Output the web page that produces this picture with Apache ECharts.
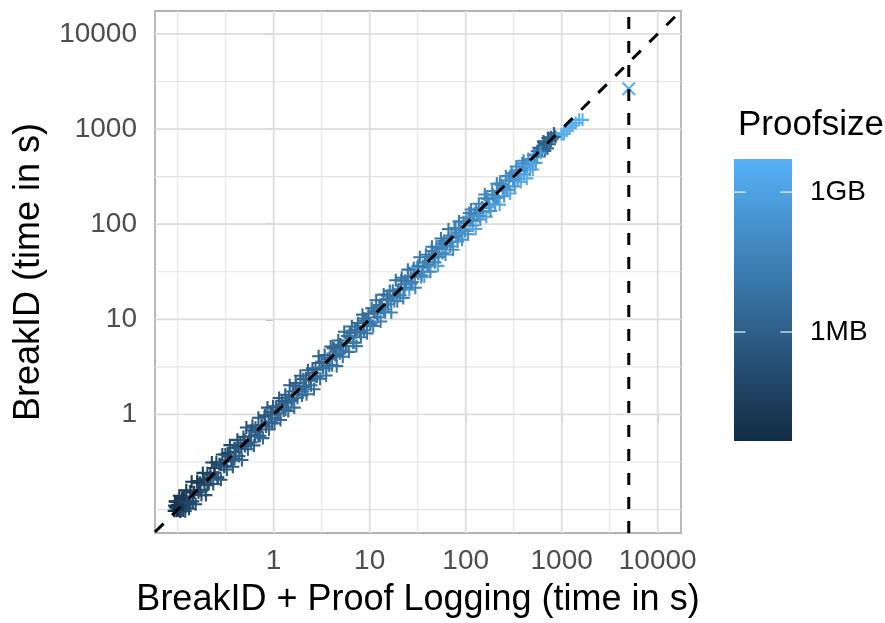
<!DOCTYPE html>
<html><head><meta charset="utf-8">
<script src="https://cdn.jsdelivr.net/npm/echarts@6/dist/echarts.min.js"></script>
<style>html,body{margin:0;padding:0;background:#fff}#c{width:885px;height:623px}</style>
</head><body><div id="c"></div>
<script>
// ---- data: [BreakID + proof logging time (s), BreakID time (s), proof size (MB)] ----
const xTickValues = [1, 10, 100, 1000, 10000];
const yTickValues = [1, 10, 100, 1000, 10000];
const legendLabels = ['1MB', '1GB'];
const legendValuesMB = [1, 1000];
const timeoutSeconds = 5000;

const ptsTenths = [
[0.092,0.097,0.02],[0.094,0.122,0.008],[0.095,0.105,0.015],[0.097,0.097,0.0046],[0.099,0.121,0.01],[0.1,0.112,0.03],[0.102,0.098,0.05],[0.104,0.14,0.012],[0.106,0.11,0.04],[0.108,0.097,0.06],[0.111,0.133,0.02],[0.114,0.098,0.08],[0.117,0.129,0.03],[0.12,0.096,0.1],[0.123,0.16,0.015],[0.127,0.121,0.05],[0.131,0.102,0.12],[0.135,0.155,0.04],[0.14,0.196,0.02],[0.144,0.122,0.1],[0.149,0.152,0.06],[0.154,0.114,0.18],[0.16,0.2,0.04],[0.165,0.152,0.09],[0.171,0.192,0.07],[0.177,0.142,0.2],[0.183,0.243,0.05],[0.19,0.184,0.12],[0.197,0.142,0.3],[0.204,0.241,0.08],[0.211,0.186,0.18],[0.219,0.232,0.1],[0.227,0.313,0.06],[0.235,0.186,0.35],[0.244,0.244,0.15],[0.253,0.314,0.09],[0.262,0.217,0.4],[0.272,0.299,0.2],[0.282,0.206,0.5],[0.292,0.38,0.12],
[0.093,0.11,0.01],[0.096,0.121,0.025],[0.1,0.1,0.007],[0.105,0.121,0.03],[0.11,0.11,0.015],[0.118,0.122,0.04]
];
const ptsSubSecond = [
[0.303,0.288,0.4],[0.314,0.38,0.15],[0.326,0.264,0.7],[0.338,0.362,0.3],[0.35,0.476,0.12],[0.363,0.327,0.5],[0.376,0.282,0.9],[0.39,0.445,0.25],[0.404,0.404,0.6],[0.419,0.541,0.2],[0.434,0.365,1.0],[0.45,0.495,0.45],[0.467,0.332,1.5],[0.484,0.581,0.3],[0.502,0.467,0.8],[0.52,0.728,0.25],[0.539,0.431,1.4],[0.559,0.587,0.6],[0.58,0.51,1.1],[0.601,0.763,0.4],[0.623,0.473,2.0],[0.646,0.724,0.7],[0.67,0.65,1.2],[0.694,0.923,0.5],[0.72,0.598,1.8],[0.746,0.761,0.9],[0.773,0.564,2.5],[0.802,0.954,0.6],[0.831,0.748,1.5],[0.862,1.18,0.5],[0.893,0.697,2.8],[0.926,1.0,1.0],[0.96,0.826,2.0],[0.985,1.22,0.7]
];
const ptsSeconds = [
[1.02,0.806,3.0],[1.06,1.19,1.0],[1.1,1.03,1.8],[1.14,1.49,0.7],[1.18,0.873,3.5],[1.23,1.29,1.4],[1.27,1.1,2.2],[1.32,1.61,0.9],[1.37,1.34,1.6],[1.42,1.09,4.0],[1.47,2.03,0.8],[1.53,1.39,2.5],[1.58,1.74,1.5],[1.64,1.18,5.0],[1.7,2.14,1.2],[1.77,1.5,3.0],[1.83,1.88,2.0],[1.9,2.55,1.0],[1.97,1.58,4.5],[2.04,2.35,1.6],[2.12,1.95,2.8],[2.2,1.63,6.0],[2.28,2.92,1.3],[2.36,2.36,2.4],[2.45,2.03,4.0],[2.54,3.05,1.8],[2.63,1.84,7.0],[2.73,2.95,2.2],[2.83,2.52,3.5],[2.94,4.09,1.4],[3.05,2.38,6.5],[3.16,3.57,2.6],[3.28,3.12,3.8],[3.4,4.22,1.9],[3.52,2.57,8.0],[3.65,3.83,3.0],[3.79,3.26,5.0],[3.93,5.19,2.0],[4.07,3.3,7.5],[4.22,4.94,3.2],[4.38,4.25,4.5],[4.54,3.22,10],[4.71,5.98,2.5],[4.88,4.39,6.0],[5.06,5.36,3.6],[5.25,4.04,9.0],[5.44,7.4,2.8],[5.64,5.25,5.5],[5.85,6.67,4.0],[6.07,4.55,12],[6.29,6.42,5.0],[6.52,8.41,3.2],[6.76,5.68,8.0],[7.01,7.71,4.5],[7.27,5.23,14],[7.54,9.12,4.0],[7.82,7.51,6.5],[8.11,6.49,11],[8.41,11.2,3.8],[8.72,7.67,9.0],[9.04,9.67,6.0],[9.37,7.12,16],[9.72,11.5,5.0]
];
const ptsTens = [
[10.1,9.09,12],[10.5,13.1,5],[10.9,8.5,18],[11.3,11.8,8],[11.7,15.9,4.5],[12.1,10.5,14],[12.6,14.1,7],[13.0,9.49,25],[13.5,13.4,10],[14.0,18.2,6],[14.5,11.9,22],[15.1,16.3,9],[15.6,14.4,15],[16.2,19.8,7],[16.8,11.8,35],[17.4,20.0,10],[18.0,17.1,18],[18.7,25.8,6],[19.4,15.5,30],[20.1,20.7,14],[20.8,17.9,25],[21.6,27.4,9],[22.4,16.8,45],[23.2,25.5,12],[24.1,23.4,20],[25.0,33.3,8],[25.9,20.5,600],[26.8,28.4,15],[27.8,24.7,30],[28.8,34.6,11],[29.9,21.5,60],[31.0,35.0,1200],[32.1,30.2,25],[33.3,45.0,10],[34.5,27.9,50],[35.8,36.2,20],[37.1,28.2,900],[38.5,47.7,14],[39.9,35.9,35],[41.4,45.1,22],[42.9,31.7,80],[44.5,57.9,12],[46.1,44.3,30],[47.8,39.7,55],[49.6,58.0,18],[51.4,36.5,1500],[53.3,55.4,28],[55.3,70.8,15],[57.3,49.9,70],[59.4,66.5,25],[61.6,48.0,110],[63.9,63.9,40],[66.2,88.7,18],[68.7,58.4,90],[71.2,76.2,35],[73.8,53.9,150],[76.5,91.0,28],[79.4,73.8,60],[82.3,65.8,120],[85.3,107,30],[88.5,85.8,75],[91.7,68.8,200],[95.1,105,45]
];
const ptsHundreds = [
[98.6,84.8,150],[102,117,40],[106,78.4,250],[110,108,80],[114,143,30],[118,96.8,180],[123,129,60],[127,88.9,1800],[132,123,100],[137,164,45],[142,112,220],[147,150,90],[152,134,130],[158,205,50],[164,120,2000],[170,184,70],[176,158,140],[182,138,300],[189,223,60],[196,186,120],[203,162,350],[211,266,55],[218,190,180],[226,160,2200],[235,259,80],[243,236,150],[252,197,420],[262,320,70],[271,228,260],[281,289,110],[291,210,2500],[302,344,90],[313,285,200],[325,250,500],[337,404,85],[349,300,300],[362,362,150],[375,278,2600],[389,436,100],[403,334,450],[418,397,220],[433,303,2800],[449,485,120],[466,373,600],[483,435,350],[501,376,3000],[519,540,150],[538,441,800],[558,513,400],[578,636,2.5],[600,630,1.2],[622,603,3.0],[645,742,1.0],[668,588,4.0],[693,707,1.5],[718,804,0.9],[745,693,2.5],[772,818,1.2],[800,792,3.5],[830,896,1.0],[860,826,2.0]
];
const ptsThousands = [
[1000,880,3200],[1060,890,3400],[1130,960,3600],[1210,1030,3800],[1300,1090,4000],[1400,1160,4100],[1520,1250,4300],[1650,1250,4500]
];
const ptsCore = [
[0.098,0.106,0.015],[0.106,0.0954,0.05],[0.115,0.133,0.02],[0.125,0.119,0.06],[0.136,0.117,0.1],[0.147,0.151,0.04],[0.16,0.192,0.03],[0.173,0.161,0.12],[0.188,0.209,0.06],[0.204,0.18,0.2],[0.221,0.217,0.1],[0.24,0.274,0.07],[0.26,0.218,0.35],[0.282,0.296,0.15],[0.306,0.282,0.3],[0.332,0.392,0.12],[0.36,0.36,0.4],[0.391,0.34,0.8],[0.424,0.466,0.3],[0.46,0.442,0.6],[0.5,0.54,0.45],[0.542,0.488,1.0],[0.588,0.682,0.35],[0.638,0.606,0.9],[0.692,0.595,1.6],[0.751,0.774,0.8],[0.815,0.978,0.5],[0.884,0.822,1.5],[0.959,1.06,1.0],[1.04,0.915,2.5],
[1.13,1.11,1.5],[1.22,1.39,1.0],[1.33,1.12,3.5],[1.44,1.51,1.8],[1.56,1.44,2.8],[1.7,2.01,1.3],[1.84,1.84,2.5],[2.0,1.74,5.0],[2.17,2.39,2.0],[2.35,2.26,3.5],[2.55,2.75,2.8],[2.77,2.49,6.0],[3.0,3.48,2.2],[3.26,3.1,4.5],[3.53,3.04,8.0],[3.83,3.94,3.5],[4.16,4.99,2.6],[4.51,4.19,6.5],[4.9,5.44,4.0],[5.31,4.67,10],[5.76,5.64,6.0],[6.25,7.13,4.2],[6.78,5.7,13],[7.36,7.73,6.5],[7.99,7.35,9.0],[8.67,10.2,5.5],[9.4,9.4,10],
[10.2,8.87,20],[11.1,12.2,9],[12.0,11.5,14],[13.0,14.0,11],[14.1,12.7,25],[15.3,17.7,9],[16.6,15.8,20],[18.1,15.6,40],[19.6,20.2,15],[21.3,25.6,10],[23.1,21.5,30],[25.0,27.8,16],[27.1,23.8,50],[29.5,28.9,25],[32.0,36.5,15],[34.7,29.1,70],[37.6,39.5,28],[40.8,37.5,45],[44.3,52.3,20],[48.1,48.1,40],[52.1,45.3,90],[56.6,62.3,30],[61.4,58.9,60],[66.6,71.9,45],[72.3,65.1,130],[78.4,90.9,35],[85.1,80.8,80],[92.3,79.4,250],
[100,103,70],[109,131,40],[118,110,120],[128,142,60],[139,122,300],[151,148,110],[164,187,55],[178,150,700],[193,203,100],[209,192,200],[227,268,60],[246,246,150],[267,232,400],[290,319,90],[314,301,250],[341,368,120],[370,333,1000],[401,465,80],[436,414,300],[473,407,1500],[513,528,200],[556,584,3.0],[604,562,800],[655,727,1.5],[711,626,2.0],[771,756,1.8],[837,870,2.2]
];
const timedOut = [
[5000,2650,5130]
];

// ---- axis limits (log10 seconds) ----
const xLim = [-1.236, 4.243];
const yLim = [-1.246, 4.241];

const L = Math.log10;
const FONT = "'Liberation Sans', Arial, sans-serif";
const toPlot = p => [L(p[0]), L(p[1]), L(p[2] * 1e6)];
const solved = [].concat(ptsTenths, ptsSubSecond, ptsSeconds, ptsTens, ptsHundreds, ptsCore, ptsThousands).map(toPlot);
const timeouts = timedOut.map(toPlot);
const allP = solved.concat(timeouts).map(d => d[2]);
const pMin = Math.min.apply(null, allP), pMax = Math.max.apply(null, allP);

// gridlines: majors at ticks, minors halfway (log space), extended one step
const majorLog = xTickValues.map(L);
const minorLog = [];
const ext = [majorLog[0] - 1].concat(majorLog);
for (let i = 0; i < ext.length - 1; i++) { minorLog.push(ext[i]); minorLog.push((ext[i] + ext[i + 1]) / 2); }
const inX = v => v >= xLim[0] && v <= xLim[1];
const inY = v => v >= yLim[0] && v <= yLim[1];
const gridData = [];
minorLog.filter(inX).forEach(v => gridData.push([v, 'vx', 0]));
minorLog.filter(inY).forEach(v => gridData.push([v, 'hy', 0]));
majorLog.filter(inX).forEach(v => gridData.push([v, 'vx', 1]));
yTickValues.map(L).filter(inY).forEach(v => gridData.push([v, 'hy', 1]));

const plusPath = 'path://M42,0L58,0L58,42L100,42L100,58L58,58L58,100L42,100L42,58L0,58L0,42L42,42Z';
const crossPath = 'path://M11,0L50,39L89,0L100,11L61,50L100,89L89,100L50,61L11,100L0,89L39,50L0,11Z';

const legendLog = legendValuesMB.map(mb => L(mb * 1e6));

const chart = echarts.init(document.getElementById('c'), null, {renderer: 'canvas'});
chart.setOption({
  animation: false,
  backgroundColor: '#fff',
  textStyle: {fontFamily: FONT},
  title: {text: 'Proofsize', left: 733, top: 103, textStyle: {fontSize: 35, fontWeight: 'normal', color: '#000', fontFamily: FONT}},
  grid: [
    {left: 155, top: 11, width: 526, height: 526, show: true, borderColor: '#B3B3B3', borderWidth: 1.8, backgroundColor: '#fff'},
    {left: 734, top: 159, width: 58, height: 282}
  ],
  xAxis: [
    {type: 'value', gridIndex: 0, min: xLim[0], max: xLim[1],
     axisLine: {show: false}, splitLine: {show: false},
     axisTick: {show: true, customValues: xTickValues.map(L), length: 8, lineStyle: {color: '#B3B3B3', width: 1.8}},
     axisLabel: {customValues: xTickValues.map(L), formatter: v => String(Math.round(Math.pow(10, v))), fontSize: 28, color: '#4D4D4D', margin: 14, fontFamily: FONT},
     name: 'BreakID + Proof Logging (time in s)', nameLocation: 'middle', nameGap: 49,
     nameTextStyle: {fontSize: 36, color: '#000', fontFamily: FONT}},
    {type: 'value', gridIndex: 1, min: 0, max: 1, show: false}
  ],
  yAxis: [
    {type: 'value', gridIndex: 0, min: yLim[0], max: yLim[1],
     axisLine: {show: false}, splitLine: {show: false},
     axisTick: {show: true, customValues: yTickValues.map(L), length: 8, lineStyle: {color: '#B3B3B3', width: 1.8}},
     axisLabel: {customValues: yTickValues.map(L), formatter: v => String(Math.round(Math.pow(10, v))), fontSize: 28, color: '#4D4D4D', margin: 18, fontFamily: FONT},
     name: 'BreakID (time in s)', nameLocation: 'middle', nameGap: 108,
     nameTextStyle: {fontSize: 36, color: '#000', fontFamily: FONT}},
    {type: 'value', gridIndex: 1, min: pMin, max: pMax, position: 'right',
     axisLine: {show: false}, axisTick: {show: false}, splitLine: {show: false},
     axisLabel: {customValues: legendLog, fontSize: 28, color: '#000', margin: 18, fontFamily: FONT,
       formatter: v => { let b = 0; legendLog.forEach((lv, i) => { if (Math.abs(lv - v) < Math.abs(legendLog[b] - v)) b = i; }); return legendLabels[b]; }}}
  ],
  visualMap: [{type: 'continuous', show: false, seriesIndex: [1, 2], dimension: 2, min: pMin, max: pMax,
    inRange: {color: ['#132B43', '#56B1F7']}}],
  series: [
    {type: 'custom', xAxisIndex: 0, yAxisIndex: 0, z: 1, silent: true, data: gridData,
     encode: {x: 0, y: 2},
     renderItem: (params, api) => {
       const v = api.value(0), kind = gridData[params.dataIndex][1], major = gridData[params.dataIndex][2];
       let p1, p2;
       if (kind === 'vx') { p1 = api.coord([v, yLim[0]]); p2 = api.coord([v, yLim[1]]); }
       else { p1 = api.coord([xLim[0], v]); p2 = api.coord([xLim[1], v]); }
       return {type: 'line', shape: {x1: p1[0], y1: p1[1], x2: p2[0], y2: p2[1]},
               style: {stroke: major ? '#DEDEDE' : '#E4E4E4', lineWidth: major ? 1.8 : 1.1}};
     }},
    {type: 'scatter', xAxisIndex: 0, yAxisIndex: 0, z: 2, silent: true, data: solved,
     symbol: plusPath, symbolSize: 13, itemStyle: {opacity: 1}},
    {type: 'scatter', xAxisIndex: 0, yAxisIndex: 0, z: 2, silent: true, data: timeouts,
     symbol: crossPath, symbolSize: 14, itemStyle: {opacity: 1}},
    {type: 'line', xAxisIndex: 0, yAxisIndex: 0, z: 3, silent: true, clip: true, showSymbol: false, symbol: 'none',
     data: [[xLim[0], xLim[0]], [xLim[1], xLim[1]]],
     lineStyle: {color: '#000', width: 3, type: [12, 12]}},
    {type: 'line', xAxisIndex: 0, yAxisIndex: 0, z: 3, silent: true, clip: true, showSymbol: false, symbol: 'none',
     data: [[L(timeoutSeconds), yLim[0]], [L(timeoutSeconds), yLim[1]]],
     lineStyle: {color: '#000', width: 3, type: [12, 12]}},
    {type: 'custom', xAxisIndex: 1, yAxisIndex: 1, z: 2, silent: true, data: [[0, pMin]],
     renderItem: (params, api) => {
       const a = api.coord([0, pMax]), b = api.coord([1, pMin]);
       return {type: 'rect', shape: {x: a[0], y: a[1], width: b[0] - a[0], height: b[1] - a[1]},
               style: {fill: new echarts.graphic.LinearGradient(0, 0, 0, 1, [{offset: 0, color: '#56B1F7'}, {offset: 1, color: '#132B43'}])}};
     }},
    {type: 'custom', xAxisIndex: 1, yAxisIndex: 1, z: 3, silent: true, data: legendLog.map(v => [0, v]),
     renderItem: (params, api) => {
       const a = api.coord([0, api.value(1)]), b = api.coord([1, api.value(1)]);
       const len = (b[0] - a[0]) / 5;
       return {type: 'group', children: [
         {type: 'line', shape: {x1: a[0], y1: a[1], x2: a[0] + len, y2: a[1]}, style: {stroke: 'rgba(255,255,255,0.75)', lineWidth: 1.5}},
         {type: 'line', shape: {x1: b[0] - len, y1: b[1], x2: b[0], y2: b[1]}, style: {stroke: 'rgba(255,255,255,0.75)', lineWidth: 1.5}}
       ]};
     }}
  ]
});
</script>
</body></html>
